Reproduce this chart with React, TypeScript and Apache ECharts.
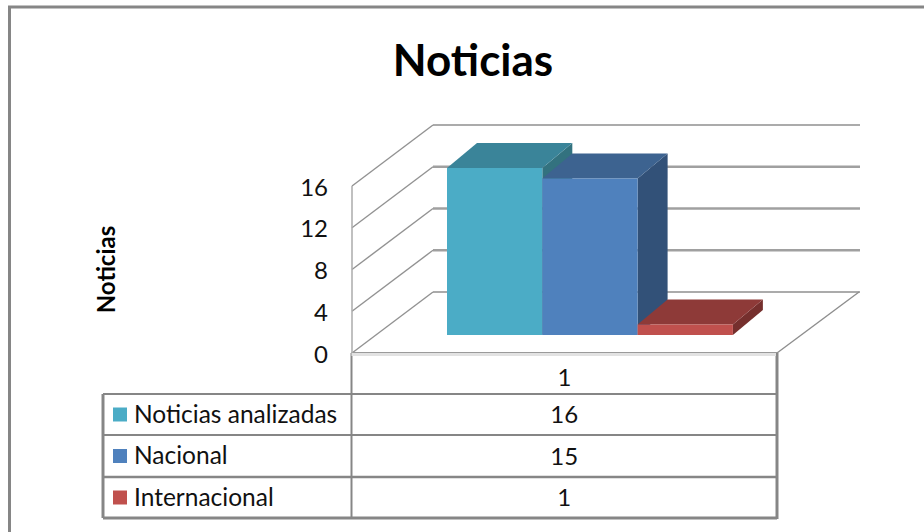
import React, { useEffect, useRef } from "react";
import * as echarts from "echarts";

const title = "Noticias";
const yAxisName = "Noticias";
const categories = ["1"];
const yTicks = [0, 4, 8, 12, 16];
const seriesNames = ["Noticias analizadas", "Nacional", "Internacional"];
const seriesValues = [16, 15, 1];
const frontColors = ["#4BACC6", "#4F81BD", "#C0504D"];
const topColors = ["#3A8499", "#3D6390", "#8E3A38"];
const sideColors = ["#33727F", "#325178", "#752F2D"];

const FONT = "Lato, Carlito, 'Noto Sans', sans-serif";
const GRID = { left: 352, right: 147, top: 186, bottom: 179 };
const DEPTH = { x: 81, y: -61 };
const WALL_RIGHT = 860;
const BAR = { inset: 95, width: 95.3, lift: 18, dx: 30, dy: -25 };
const TABLE = { left: 103, mid: 351.5, right: 777, rows: [394, 435, 477, 518] };
const LINE = "#868686";

function wallItem(_: any, api: any) {
  const v = api.value(0);
  const p = api.coord([0, v]);
  const y = p[1];
  const inner = v !== 0 && v !== 16;
  return {
    type: "group",
    silent: true,
    children: [
      {
        type: "line",
        shape: { x1: GRID.left + DEPTH.x, y1: y + DEPTH.y, x2: WALL_RIGHT, y2: y + DEPTH.y },
        style: { stroke: inner ? "#A0A0A0" : "#ABABAB", lineWidth: inner ? 2.4 : 1.8 },
      },
      {
        type: "line",
        shape: { x1: GRID.left, y1: y, x2: GRID.left + DEPTH.x, y2: y + DEPTH.y },
        style: { stroke: "#929292", lineWidth: 1.4 },
      },
    ],
  };
}

function barItem(index: number) {
  return (_: any, api: any) => {
    const top = api.coord([0, api.value(1)])[1];
    const zero = api.coord([0, 0])[1];
    const base = zero - BAR.lift;
    const h = zero - top;
    const y0 = base - h;
    const x0 = GRID.left + BAR.inset + index * BAR.width;
    const x1 = x0 + BAR.width;
    return {
      type: "group",
      silent: true,
      children: [
        {
          type: "polygon",
          shape: { points: [[x1, y0], [x1 + BAR.dx, y0 + BAR.dy], [x1 + BAR.dx, base + BAR.dy], [x1, base]] },
          style: { fill: sideColors[index] },
        },
        {
          type: "polygon",
          shape: { points: [[x0, y0], [x0 + BAR.dx, y0 + BAR.dy], [x1 + BAR.dx, y0 + BAR.dy], [x1, y0]] },
          style: { fill: topColors[index] },
        },
        {
          type: "rect",
          shape: { x: x0, y: y0, width: BAR.width, height: base - y0 },
          style: { fill: frontColors[index] },
        },
      ],
    };
  };
}

export default function App() {
  const ref = useRef<HTMLDivElement>(null);
  useEffect(() => {
    const chart = echarts.init(ref.current!, null, { renderer: "svg" });
    const line = (x1: number, y1: number, x2: number, y2: number, w = 2, c = LINE) => ({
      type: "line",
      silent: true,
      z: 5,
      shape: { x1, y1, x2, y2 },
      style: { stroke: c, lineWidth: w },
    });
    const text = (t: string, x: number, y: number, size: number, align = "center") => ({
      type: "text",
      silent: true,
      z: 6,
      x,
      y,
      style: { text: t, x: 0, y: 0, font: `${size}px ${FONT}`, fill: "#111", align, verticalAlign: "middle" },
    });
    const graphics: any[] = [
      line(9.5, 7, 9.5, 532, 3),
      line(8, 7, 924, 7, 3),
      line(TABLE.left, TABLE.rows[0], TABLE.right, TABLE.rows[0]),
      line(TABLE.left, TABLE.rows[1], TABLE.right, TABLE.rows[1]),
      line(TABLE.left, TABLE.rows[2], TABLE.right, TABLE.rows[2], 2.5),
      line(TABLE.left, TABLE.rows[3], TABLE.right, TABLE.rows[3], 3),
      line(TABLE.left, TABLE.rows[0], TABLE.left, TABLE.rows[3], 3),
      line(TABLE.mid, 353, TABLE.mid, TABLE.rows[3], 2),
      line(TABLE.right, 353, TABLE.right, TABLE.rows[3] + 1, 3),
      line(TABLE.mid, 354.5, TABLE.right - 1, 354.5, 3, "#E2E2E2"),
      line(TABLE.mid, 352.5, TABLE.right, 352.5, 1.2, "#9A9A9A"),
      line(GRID.left, 186, GRID.left, 353, 1.5, "#ABABAB"),
      line(TABLE.right, 353, WALL_RIGHT - 1, 292, 1.4, "#8E8E8E"),
    ];
    seriesNames.forEach((n, i) => {
      const yc = (TABLE.rows[i] + TABLE.rows[i + 1]) / 2;
      graphics.push({
        type: "rect",
        silent: true,
        z: 6,
        shape: { x: 113, y: yc - 7, width: 14, height: 14 },
        style: { fill: frontColors[i] },
      });
      graphics.push(text(n, 134, yc - 1.5, 24.5, "left"));
      graphics.push(text(String(seriesValues[i]), (TABLE.mid + TABLE.right) / 2, yc - 1, 24));
    });

    chart.setOption({
      animation: false,
      backgroundColor: "#fff",
      title: {
        text: title,
        left: 473,
        top: 32,
        textAlign: "center",
        textStyle: { fontFamily: FONT, fontSize: 44, fontWeight: "bold", color: "#000" },
      },
      grid: GRID,
      xAxis: {
        type: "category",
        data: categories,
        axisLine: { show: false },
        axisTick: { show: false },
        axisLabel: { fontFamily: FONT, fontSize: 24, color: "#111", margin: 11 },
      },
      yAxis: {
        type: "value",
        min: 0,
        max: 16,
        interval: 4,
        name: yAxisName,
        nameLocation: "middle",
        nameGap: 235,
        nameRotate: 90,
        nameTextStyle: { fontFamily: FONT, fontSize: 24, fontWeight: "bold", color: "#000" },
        axisLine: { show: false },
        axisTick: { show: false },
        splitLine: { show: false },
        axisLabel: { fontFamily: FONT, fontSize: 24, color: "#111", margin: 24 },
      },
      graphic: { elements: graphics },
      series: [
        { type: "custom", name: "walls", silent: true, z: 1, renderItem: wallItem, data: yTicks.map((v) => [v]), encode: { y: 0 } },
        ...seriesNames.map((name, i) => ({
          type: "custom",
          name,
          silent: true,
          z: 2 + i,
          renderItem: barItem(i),
          data: [[0, seriesValues[i]]],
          encode: { x: 0, y: 1 },
        })),
      ],
    });
    chart.setOption({ title: { left: 468 } });
    return () => chart.dispose();
  }, []);
  return (
    <div
      ref={ref}
      style={{ position: "fixed", left: 0, top: 0, width: 924, height: 532 }}
    />
  );
}
